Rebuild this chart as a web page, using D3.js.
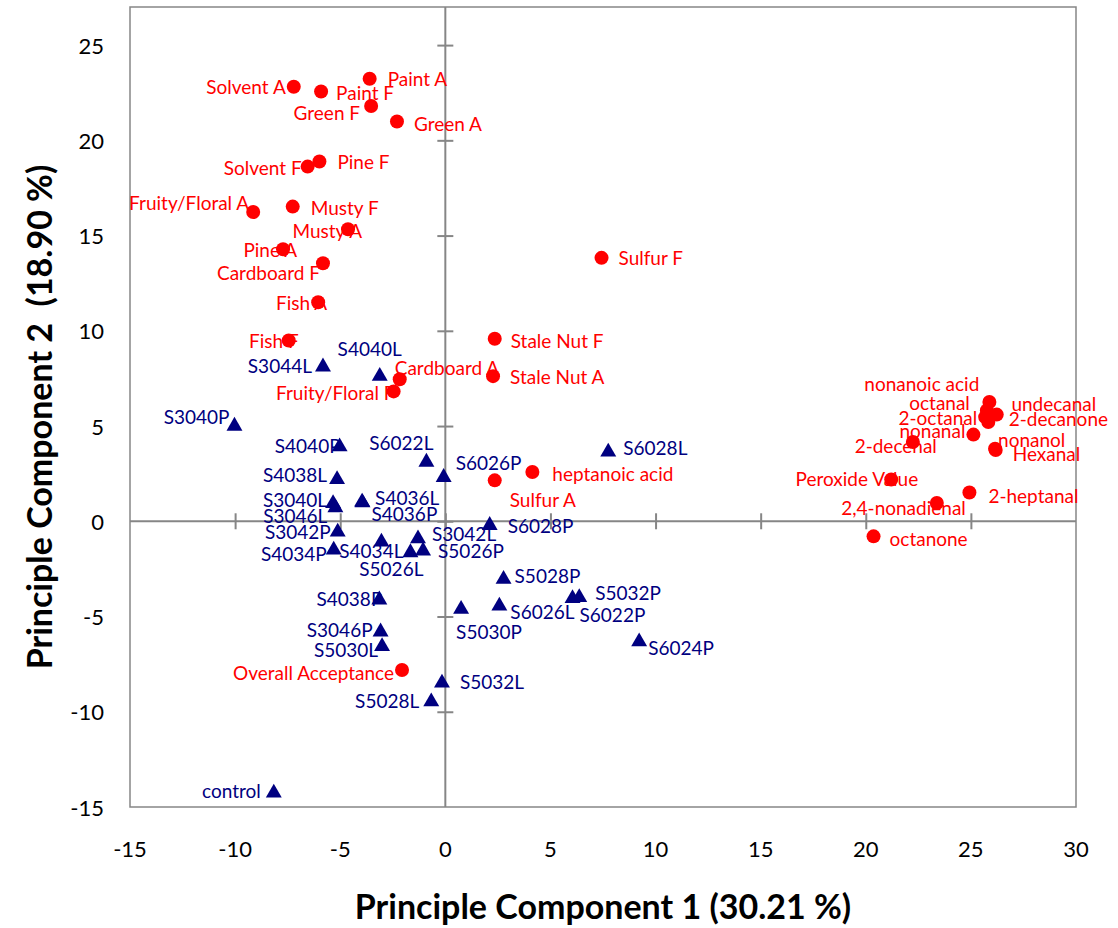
<!DOCTYPE html>
<html>
<head>
<meta charset="utf-8">
<script src="https://cdn.jsdelivr.net/npm/d3@7"></script>
<style>
  body { margin: 0; background: #fff; }
  text { font-family: Lato, "Open Sans", sans-serif; }
</style>
</head>
<body>
<div id="chart"></div>
<script>
// Attributes / volatiles (red circles)
var attrNames = ["Solvent A", "Paint F", "Paint A", "Green F", "Green A", "Pine F", "Solvent F",
  "Fruity/Floral A", "Musty F", "Musty A", "Pine A", "Cardboard F", "Fish A", "Fish F",
  "Cardboard A", "Fruity/Floral F", "Stale Nut F", "Stale Nut A", "heptanoic acid", "Sulfur A",
  "Sulfur F", "Overall Acceptance", "nonanoic acid", "octanal", "undecanal", "2-octanal",
  "2-decanone", "nonanal", "nonanol", "Hexanal", "2-decenal", "Peroxide Value", "2-heptanal",
  "2,4-nonadienal", "octanone"];
var attrX = [-7.21, -5.91, -3.60, -3.53, -2.30, -5.99, -6.55,
  -9.14, -7.26, -4.63, -7.72, -5.82, -6.05, -7.45,
  -2.17, -2.46, 2.35, 2.27, 4.14, 2.35,
  7.43, -2.06, 25.83, 25.76, 25.88, 25.68,
  26.23, 25.12, 26.15, 26.18, 22.24, 21.21, 24.93,
  23.38, 20.37];
var attrY = [22.81, 22.56, 23.23, 21.80, 20.99, 18.89, 18.62,
  16.24, 16.52, 15.33, 14.28, 13.55, 11.50, 9.49,
  7.46, 6.82, 9.58, 7.62, 2.59, 2.15,
  13.83, -7.81, 5.21, 5.82, 6.26, 5.47,
  5.60, 4.55, 3.81, 3.74, 4.16, 2.19, 1.51,
  0.96, -0.79];

// Samples (navy triangles)
var sampleNames = ["S3044L", "S4040L", "S3040P", "S4040P", "S6022L", "S6026P", "S4038L",
  "S3040L", "S3046L", "S4036L", "S4036P", "S3042P", "S4034P", "S4034L", "S3042L",
  "S5026L", "S5026P", "S4038P", "S3046P", "S5030L", "S5032L", "S5028L", "control",
  "S5030P", "S6028L", "S6028P", "S5028P", "S6026L", "S5032P", "S6022P", "S6024P"];
var sampleX = [-5.82, -3.12, -10.03, -5.03, -0.90, -0.08, -5.15,
  -5.34, -5.23, -3.96, -3.94, -5.12, -5.31, -3.04, -1.30,
  -1.66, -1.06, -3.14, -3.08, -3.01, -0.16, -0.67, -8.16,
  0.75, 7.75, 2.11, 2.77, 2.57, 6.37, 6.05, 9.22];
var sampleY = [8.23, 7.74, 5.12, 4.04, 3.23, 2.43, 2.32,
  1.06, 0.84, 1.14, 1.10, -0.44, -1.38, -0.96, -0.79,
  -1.52, -1.43, -4.00, -5.68, -6.45, -8.37, -9.35, -14.14,
  -4.49, 3.76, -0.09, -2.92, -4.32, -3.88, -3.93, -6.20];

var xTicks = [-15, -10, -5, 0, 5, 10, 15, 20, 25, 30];
var yTicks = [-15, -10, -5, 0, 5, 10, 15, 20, 25];

// label placement: [dx, dy, anchor] in px from the marker
var labelPos = {
  "Solvent A": [-8, 0, "end"], "Paint F": [15, 1, "start"], "Paint A": [18, 0, "start"],
  "Green F": [-11, 6, "end"], "Green A": [17, 2, "start"], "Pine F": [18, 0, "start"],
  "Solvent F": [-6, 1, "end"], "Fruity/Floral A": [-4, -9, "end"], "Musty F": [18, 1, "start"],
  "Musty A": [14, 1, "end"], "Pine A": [14, 0, "end"], "Cardboard F": [-3, 9, "end"],
  "Fish A": [9, 0, "end"], "Fish F": [10, 0, "end"], "Cardboard A": [-5, -12, "start"],
  "Fruity/Floral F": [1, 1, "end"], "Stale Nut F": [16, 2, "start"], "Stale Nut A": [17, 0, "start"],
  "heptanoic acid": [20, 2, "start"], "Sulfur A": [15, 19, "start"], "Sulfur F": [17, 0, "start"],
  "Overall Acceptance": [-8, 2, "end"], "nonanoic acid": [-9, -39, "end"], "octanal": [-17, -8, "end"],
  "undecanal": [22, 1, "start"], "2-octanal": [-8, 0, "end"], "2-decanone": [12, 4, "start"],
  "nonanal": [-8, -4, "end"], "nonanol": [3, -9, "start"], "Hexanal": [17, 3, "start"],
  "2-decenal": [24, 3, "end"], "Peroxide Value": [27, -1, "end"], "2-heptanal": [19, 3, "start"],
  "2,4-nonadienal": [29, 4, "end"], "octanone": [16, 2, "start"],
  "S3044L": [-11, 1, "end"], "S4040L": [22, -25, "end"], "S3040P": [-5, -7, "end"],
  "S4040P": [1, 1, "end"], "S6022L": [7, -17, "end"], "S6026P": [12, -13, "start"],
  "S4038L": [-10, -3, "end"], "S3040L": [-6, -2, "end"], "S3046L": [-8, 10, "end"],
  "S4036L": [13, -2, "start"], "S4036P": [9, 13, "start"], "S3042P": [-7, 2, "end"],
  "S4034P": [-7, 6, "end"], "S4034L": [22, 11, "end"], "S3042L": [14, -3, "start"],
  "S5026L": [13, 18, "end"], "S5026P": [15, 2, "start"], "S4038P": [3, 1, "end"],
  "S3046P": [-8, 0, "end"], "S5030L": [-4, 5, "end"], "S5032L": [18, 1, "start"],
  "S5028L": [-12, 1, "end"], "control": [-13, 0, "end"], "S5030P": [-5, 25, "start"],
  "S6028L": [15, -2, "start"], "S6028P": [18, 2, "start"], "S5028P": [11, -1, "start"],
  "S6026L": [11, 8, "start"], "S5032P": [16, -3, "start"], "S6022P": [7, 18, "start"],
  "S6024P": [9, 8, "start"]
};

var W = 1118, H = 928;
var plotL = 130, plotR = 1076, plotT = 7, plotB = 807;

var svg = d3.select("#chart").append("svg")
  .attr("width", W).attr("height", H);

var x = d3.scaleLinear().domain([-15, 30]).range([plotL, plotR]);
var y = d3.scaleLinear().domain([-15, 27]).range([plotB, plotT]);

var gridCol = "#868686";

// plot border
svg.append("rect")
  .attr("x", plotL).attr("y", plotT)
  .attr("width", plotR - plotL).attr("height", plotB - plotT)
  .attr("fill", "none").attr("stroke", gridCol).attr("stroke-width", 1.5);

// axes crossing at zero, with ticks crossing the line
var xAxis = svg.append("g")
  .attr("transform", "translate(0," + y(0) + ")")
  .call(d3.axisBottom(x).tickValues(xTicks.slice(1, -1)).tickSize(8).tickSizeOuter(0).tickFormat(""));
xAxis.select(".domain").attr("stroke", gridCol).attr("stroke-width", 2)
  .attr("d", "M" + plotL + ",0H" + plotR);
xAxis.selectAll(".tick line").attr("stroke", gridCol).attr("stroke-width", 2).attr("y1", -8);

var yAxis = svg.append("g")
  .attr("transform", "translate(" + x(0) + ",0)")
  .call(d3.axisLeft(y).tickValues(yTicks.slice(1)).tickSize(8).tickSizeOuter(0).tickFormat(""));
yAxis.select(".domain").attr("stroke", gridCol).attr("stroke-width", 2)
  .attr("d", "M0," + plotT + "V" + plotB);
yAxis.selectAll(".tick line").attr("stroke", gridCol).attr("stroke-width", 2).attr("x1", 8);

// tick labels along the plot edges
svg.append("g").selectAll("text")
  .data(xTicks).enter().append("text")
  .attr("x", function(d) { return x(d); })
  .attr("y", 848)
  .attr("text-anchor", "middle")
  .attr("dominant-baseline", "central")
  .attr("font-size", "22px")
  .attr("fill", "#000")
  .text(function(d) { return d; });

svg.append("g").selectAll("text")
  .data(yTicks).enter().append("text")
  .attr("x", 104)
  .attr("y", function(d) { return y(d); })
  .attr("text-anchor", "end")
  .attr("dominant-baseline", "central")
  .attr("font-size", "22px")
  .attr("fill", "#000")
  .text(function(d) { return d; });

// axis titles
svg.append("text")
  .attr("x", 603).attr("y", 905)
  .attr("text-anchor", "middle").attr("dominant-baseline", "central")
  .attr("font-size", "34px").attr("font-weight", "bold")
  .text("Principle Component 1 (30.21 %)");

svg.append("text")
  .attr("transform", "translate(38,417) rotate(-90)")
  .attr("text-anchor", "middle").attr("dominant-baseline", "central")
  .attr("font-size", "34px").attr("font-weight", "bold")
  .attr("xml:space", "preserve")
  .style("white-space", "pre")
  .text("Principle Component 2  (18.90 %)");

var attrs = attrNames.map(function(n, i) { return {name: n, x: attrX[i], y: attrY[i]}; });
var samples = sampleNames.map(function(n, i) { return {name: n, x: sampleX[i], y: sampleY[i]}; });

var red = "#ff0000", navy = "#000080";

// triangles, shifted so the bounding box is centred on the point
var triSize = 110;
var triH = Math.sqrt(triSize * Math.sqrt(3));
var tri = d3.symbol().type(d3.symbolTriangle).size(triSize);

svg.append("g").selectAll("path")
  .data(samples).enter().append("path")
  .attr("d", tri)
  .attr("transform", function(d) { return "translate(" + x(d.x) + "," + (y(d.y) + triH / 6) + ")"; })
  .attr("fill", navy);

svg.append("g").selectAll("circle")
  .data(attrs).enter().append("circle")
  .attr("cx", function(d) { return x(d.x); })
  .attr("cy", function(d) { return y(d.y); })
  .attr("r", 7)
  .attr("fill", red);

function addLabels(data, col) {
  svg.append("g").selectAll("text")
    .data(data).enter().append("text")
    .attr("x", function(d) { return x(d.x) + labelPos[d.name][0]; })
    .attr("y", function(d) { return y(d.y) + labelPos[d.name][1]; })
    .attr("text-anchor", function(d) { return labelPos[d.name][2]; })
    .attr("dominant-baseline", "central")
    .attr("font-size", "19px")
    .attr("fill", col)
    .text(function(d) { return d.name; });
}
addLabels(samples, navy);
addLabels(attrs, red);
</script>
</body>
</html>
